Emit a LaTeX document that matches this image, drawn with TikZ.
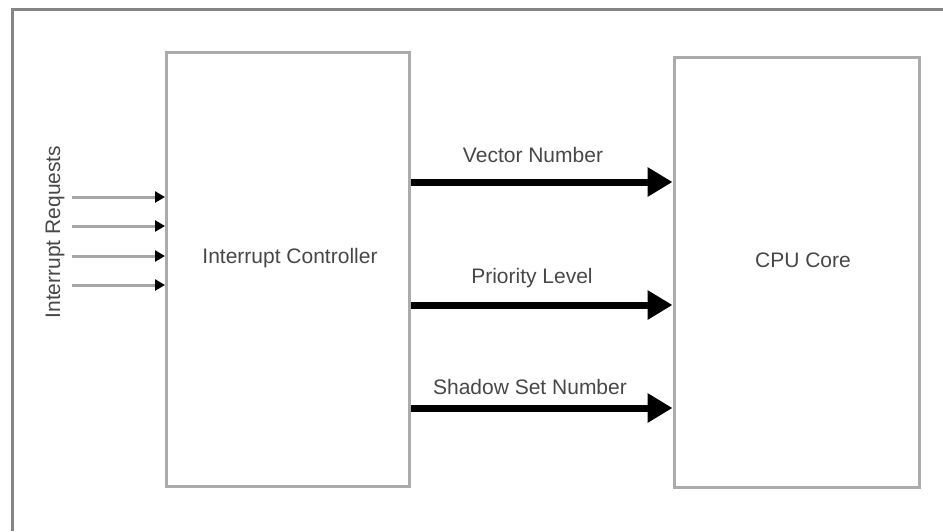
\documentclass[tikz,border=0pt]{standalone}
\usepackage{fontspec}
\setmainfont{Liberation Sans}
\usetikzlibrary{arrows.meta}
\begin{document}
\begin{tikzpicture}[x=1pt,y=-1pt,
  blk/.style={draw=black!33,line width=3pt,rectangle,inner sep=0pt},
  lbl/.style={font=\fontsize{21}{23}\selectfont,text=black!72,inner sep=0pt},
  inarrow/.style={draw=black!35,line width=3pt,-{Triangle[length=10pt,width=11pt,fill=black,color=black]}},
  bigarrow/.style={draw=black,line width=7pt,-{Triangle[length=25pt,width=28pt]}},
  framel/.style={draw=black!48,line width=3pt}]
\useasboundingbox (0,0) rectangle (943,531);
\draw[framel] (12,531) -- (12,9) -- (943,9);
\node[blk,minimum width=243pt,minimum height=434pt] (ic) at (288,269) {};
\node[blk,minimum width=245pt,minimum height=430pt] (cpu) at (796.5,272) {};
\node[lbl] (ictext) at (290,258) {Interrupt Controller};
\node[lbl] (cputext) at (803,260) {CPU Core};
\node[lbl,rotate=90] (irq) at (55,232) {Interrupt Requests};
\coordinate (r1) at (72,197);
\coordinate (r2) at (72,226);
\coordinate (r3) at (72,256);
\coordinate (r4) at (72,285);
\foreach \r in {r1,r2,r3,r4}
  \draw[inarrow] (\r) -- (ic.west |- \r);
\coordinate (vn) at (0,182);
\coordinate (pl) at (0,305);
\coordinate (ss) at (0,408);
\draw[bigarrow] (ic.east |- vn) -- (cpu.west |- vn);
\draw[bigarrow] (ic.east |- pl) -- (cpu.west |- pl);
\draw[bigarrow] (ic.east |- ss) -- (cpu.west |- ss);
\node[lbl] (vnl) at (533,155) {Vector Number};
\node[lbl] (pll) at (532,278) {Priority Level};
\node[lbl] (ssl) at (530,387) {Shadow Set Number};
\end{tikzpicture}
\end{document}
